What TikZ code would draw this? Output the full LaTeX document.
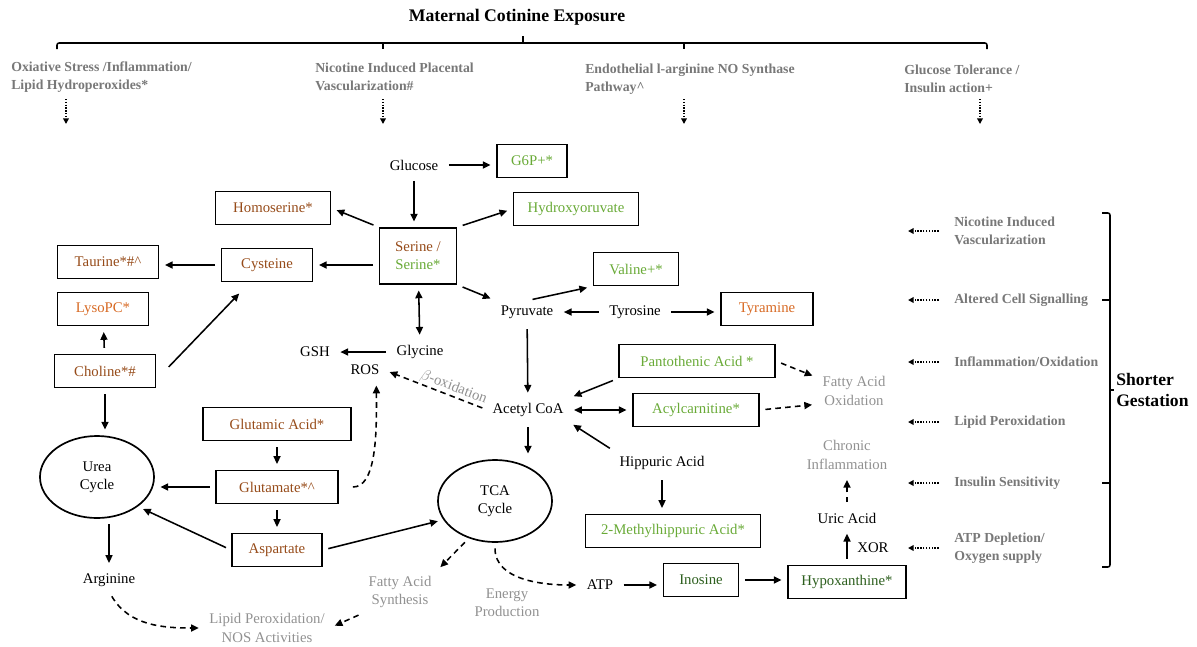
\documentclass[tikz,border=0pt]{standalone}
\usepackage{fontspec}
\setmainfont{Liberation Serif}
\usetikzlibrary{shapes.geometric,arrows.meta,positioning}
\definecolor{brn}{RGB}{150,75,25}
\definecolor{org}{RGB}{215,105,35}
\definecolor{lgrn}{RGB}{105,170,55}
\definecolor{dgrn}{RGB}{45,95,30}
\definecolor{lblgray}{RGB}{120,120,120}
\definecolor{ltgray}{RGB}{145,145,145}

\begin{document}
\begin{tikzpicture}[x=0.025cm,y=-0.025cm,
		>={Triangle[length=5.5pt,width=5pt]},
		every node/.style={font=\fontsize{10.5}{12.8}\selectfont},
		box/.style={draw,line width=1.2pt,minimum height=0.83cm,inner sep=2pt},
		cyc/.style={draw,ellipse,line width=1.2pt,inner sep=0pt,minimum width=2.85cm,minimum height=2.05cm,align=center},
		arr/.style={->,line width=1.1pt,shorten <=4pt,shorten >=4pt},
		dasharr/.style={arr,dash pattern=on 4pt off 3pt},
		dotarr/.style={-{Triangle[length=4pt,width=4pt]},line width=1.1pt,dash pattern=on 1pt off 1pt},
		hdlab/.style={font=\fontsize{9.8}{12.8}\selectfont\bfseries,text=lblgray,align=left,anchor=west,inner sep=0pt},
		note/.style={text=ltgray,align=center,font=\fontsize{10.5}{13}\selectfont}]
			\useasboundingbox (0,0) rectangle (1197,646);
			
			\node[font=\fontsize{12.6}{15}\selectfont\bfseries] (title) at (517,17) {Maternal Cotinine Exposure};
			\draw[line width=1.1pt,rounded corners=1.5pt] (57,49) -- (57,43) -- (987,43) -- (987,49);
			\draw[line width=1.1pt] (523,43) -- (523,36) (383,43) -- (383,49) (684,43) -- (684,49);
			\node[hdlab] (oxs) at (11,77) {Oxiative Stress /Inflammation/\\Lipid Hydroperoxides*};
			\node[hdlab] (nicpl) at (315,77) {Nicotine Induced Placental\\Vascularization\#};
			\node[hdlab] (endo) at (585,79) {Endothelial l-arginine NO Synthase\\Pathway\textasciicircum};
			\node[hdlab] (gltol) at (904,79) {Glucose Tolerance /\\Insulin action+};
			\foreach \x/\n in {66/1,383/2,684/3,980/4}
			{
				\coordinate (ha\n) at (\x,99);
				\coordinate (hb\n) at (\x,124);
				\draw[dotarr] (ha\n) -- (hb\n);
			}
			
			\node (glucose) at (414,165) {Glucose};
			\node[box,minimum width=1.75cm,text=lgrn] (g6p) at (532,161) {G6P+*};
			\node[box,minimum width=3.125cm,text=lgrn] (hydroxy) at (576,209) {Hydroxyoruvate};
			\node[box,minimum width=2.875cm,text=brn] (homoser) at (273,208) {Homoserine*};
			\node[box,minimum width=1.925cm,minimum height=1.4cm,align=center] (serine) at (418,256) {\textcolor{brn}{Serine /}\\\textcolor{lgrn}{Serine*}};
			\node[box,minimum width=2.275cm,text=brn] (cysteine) at (267,265) {Cysteine};
			\node[box,minimum width=2.525cm,text=brn] (taurine) at (108,262) {Taurine*\#\textasciicircum};
			\node[box,minimum width=2.275cm,text=org] (lysopc) at (103,309) {LysoPC*};
			\node[box,minimum width=2.525cm,text=brn] (choline) at (105,371) {Choline*\#};
			\node[cyc] (urea) at (97,477) {Urea\\Cycle};
			\node[box,minimum width=3.7cm,text=brn] (glutamic) at (277,424) {Glutamic Acid*};
			\node[box,minimum width=3.05cm,text=brn] (glutamate) at (277,487) {Glutamate*\textasciicircum};
			\node[box,minimum width=2.25cm,text=brn] (aspartate) at (277,550) {Aspartate};
			\node (arginine) at (109,580) {Arginine};
			\node[note] (lipidnos) at (267,628) {Lipid Peroxidation/\\NOS Activities};
			\node (glycine) at (420,352) {Glycine};
			\node (gsh) at (315,352) {GSH};
			\node (ros) at (365,370) {ROS};
			\node (pyruvate) at (527,312) {Pyruvate};
			\node (tyrosine) at (635,312) {Tyrosine};
			\node[box,minimum width=2.125cm,text=lgrn] (valine) at (636,269) {Valine+*};
			\node[box,minimum width=2.3cm,text=org] (tyramine) at (767,309) {Tyramine};
			\node (acetyl) at (528,410) {Acetyl CoA};
			\node[box,minimum width=3.9cm,text=lgrn] (panto) at (697,361) {Pantothenic Acid *};
			\node[box,minimum width=3.15cm,text=lgrn] (acyl) at (696,410) {Acylcarnitine*};
			\node (hippuric) at (662,463) {Hippuric Acid};
			\node[box,minimum width=4.375cm,text=lgrn] (methyl) at (673,531) {2-Methylhippuric Acid*};
			\node[cyc] (tca) at (495,501) {TCA\\Cycle};
			\node[note] (fasynth) at (400,592) {Fatty Acid\\Synthesis};
			\node[note] (energy) at (507,603) {Energy\\Production};
			\node (atp) at (600,585) {ATP};
			\node[box,minimum width=1.875cm,text=dgrn] (inosine) at (701,580) {Inosine};
			\node[box,minimum width=2.95cm,text=dgrn] (hypox) at (847,582) {Hypoxanthine*};
			\node (uric) at (847,518) {Uric Acid};
			\node (xor) at (873,548) {XOR};
			\node[note] (chronic) at (847,455) {Chronic\\Inflammation};
			\node[note] (faox) at (854,391) {Fatty Acid\\Oxidation};
			
			\draw[arr] (glucose.east) -- (g6p.west |- glucose.east);
			\draw[arr] (glucose) -- (glucose |- serine.north);
			\draw[arr] (serine.north west) -- (homoser.east);
			\draw[arr] (serine.north east) -- (hydroxy.west);
			\draw[arr] (serine.west |- cysteine) -- (cysteine);
			\draw[arr] (cysteine) -- (taurine.east |- cysteine);
			\draw[arr] (choline) -- (lysopc);
			\draw[arr] ([xshift=6pt]choline.east) -- ([xshift=-17pt,yshift=-5pt]cysteine.south);
			\draw[arr] (choline) -- (choline |- urea.north);
			\draw[arr,<->] (serine) -- (glycine);
			\draw[arr] (glycine) -- (gsh);
			\draw[arr] (serine.south east) -- (pyruvate.north west);
			\draw[arr] (pyruvate.north) -- (valine.south west);
			\draw[arr] (tyrosine) -- (pyruvate);
			\draw[arr] (tyrosine) -- (tyramine.west |- tyrosine);
			\draw[arr] (pyruvate) -- (acetyl);
			\draw[arr] (panto.south west) -- (acetyl.north east);
			\draw[arr,<->] (acetyl) -- (acyl);
			\draw[arr] (hippuric.north west) -- (acetyl.south east);
			\draw[arr] (acetyl) -- (acetyl |- tca.north);
			\draw[arr] (hippuric) -- (hippuric |- methyl.north);
			\draw[arr] (glutamic) -- (glutamate);
			\draw[arr] (glutamate) -- (aspartate);
			\draw[arr] (glutamate) -- (urea.east |- glutamate);
			\draw[arr] (aspartate.west) -- (urea.south east);
			\draw[arr] (aspartate.east) -- (tca.200);
			\draw[arr] (arginine |- urea.south) -- (arginine);
			\draw[dasharr] (arginine.south) to[out=-60,in=180] (lipidnos.west);
			\draw[dasharr] (fasynth.south west) -- (lipidnos.east);
			\draw[dasharr] (tca.235) -- (fasynth.north east);
			\draw[dasharr] (tca.south) to[out=-90,in=180] (atp.west);
			\draw[arr] (atp) -- (inosine.west |- atp);
			\draw[arr] (inosine) -- (hypox.west |- inosine);
			\draw[arr] (hypox) -- (uric);
			\draw[dasharr] (uric) -- (chronic);
			\draw[dasharr] (panto.east) -- (faox.160);
			\draw[dasharr] (acyl.east) -- (faox.200);
			\draw[dasharr,shorten <=10pt] (glutamate.east) .. controls (375,487) and (377,440) .. ([xshift=8pt]ros.south);
			\draw[dasharr] (acetyl.west) -- (ros.east) node[pos=0.36,sloped,above,note,inner sep=1pt] {$\beta$-oxidation};
			
			\node[hdlab] (r1) at (954,231) {Nicotine Induced\\Vascularization};
			\node[hdlab] (r2) at (954,300) {Altered Cell Signalling};
			\node[hdlab] (r3) at (954,362) {Inflammation/Oxidation};
			\node[hdlab] (r4) at (954,422) {Lipid Peroxidation};
			\node[hdlab] (r5) at (954,483) {Insulin Sensitivity};
			\node[hdlab] (r6) at (954,548) {ATP Depletion/\\Oxygen supply};
			\coordinate (rx) at (908,0);
			\foreach \n in {1,...,6}
			{
				\coordinate (re\n) at (rx |- r\n.west);
				\draw[dotarr,shorten <=11pt] (r\n.west) -- (re\n);
			}
			\draw[line width=1.1pt,rounded corners=1.5pt] (1102,213) -- (1110,213) -- (1110,567) -- (1102,567);
			\draw[line width=1.1pt] (1102,300) -- (1110,300) (1102,483) -- (1110,483) (1110,390) -- (1114,390);
			\node[font=\fontsize{12.5}{15}\selectfont\bfseries,align=left,anchor=west,inner sep=0pt] (shorter) at (1116,390) {Shorter\\Gestation};
		\end{tikzpicture}
\end{document}
